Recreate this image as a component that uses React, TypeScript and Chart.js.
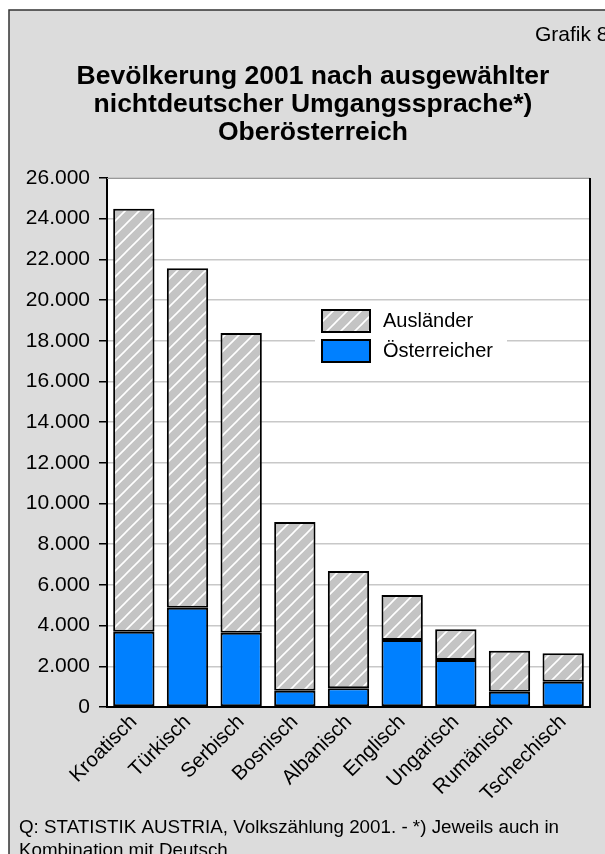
import React, { useEffect, useRef } from 'react';
import { Chart, registerables } from 'chart.js';

Chart.register(...registerables);

const categories = ['Kroatisch', 'Türkisch', 'Serbisch', 'Bosnisch', 'Albanisch', 'Englisch', 'Ungarisch', 'Rumänisch', 'Tschechisch'];
const oesterreicher = [3700, 4880, 3650, 800, 920, 3290, 2310, 750, 1240];
const auslaender = [20790, 16680, 14730, 8290, 5760, 2210, 1510, 2020, 1400];
const yMax = 26000;
const yStep = 2000;
const titleLines = ['Bevölkerung 2001 nach ausgewählter', 'nichtdeutscher Umgangssprache*)', 'Oberösterreich'];
const grafikLabel = 'Grafik 8';
const footerLines = ['Q: STATISTIK AUSTRIA, Volkszählung 2001. - *) Jeweils auch in', 'Kombination mit Deutsch.'];
const seriesNames = ['Österreicher', 'Ausländer'];

const FONT = "'Liberation Sans', Arial, Helvetica, sans-serif";
const BLUE = '#0080ff';
const GREY = '#c4c4c4';

function fmt(v: number): string {
  return String(Math.round(v)).replace(/\B(?=(\d{3})+(?!\d))/g, '.');
}

function makeHatch(): CanvasPattern | string {
  const s = 14;
  const c = document.createElement('canvas');
  c.width = s;
  c.height = s;
  const g = c.getContext('2d');
  if (!g) return GREY;
  g.fillStyle = GREY;
  g.fillRect(0, 0, s, s);
  g.strokeStyle = '#ffffff';
  g.lineWidth = 1.6;
  g.beginPath();
  g.moveTo(-2, s + 2);
  g.lineTo(s + 2, -2);
  g.moveTo(-s / 2 - 2, s / 2 + 2);
  g.lineTo(s / 2 + 2, -s / 2 - 2);
  g.moveTo(s / 2 - 2, s * 1.5 + 2);
  g.lineTo(s * 1.5 + 2, s / 2 - 2);
  g.stroke();
  const p = g.createPattern(c, 'repeat');
  return p || GREY;
}

const decorPlugin = {
  id: 'decor',
  beforeDraw(chart: any) {
    const { ctx, chartArea: a } = chart;
    ctx.save();
    ctx.fillStyle = '#ffffff';
    ctx.fillRect(0, 0, chart.width, chart.height);
    ctx.fillStyle = '#dcdcdc';
    ctx.fillRect(9, 10, 620, 860);
    ctx.strokeStyle = '#333333';
    ctx.lineWidth = 1.5;
    ctx.strokeRect(9, 10, 620, 860);
    ctx.fillStyle = '#ffffff';
    ctx.fillRect(a.left, a.top, a.right - a.left, a.bottom - a.top);
    ctx.restore();
  },
  afterDraw(chart: any) {
    const { ctx, chartArea: a } = chart;
    ctx.save();
    ctx.strokeStyle = '#999999';
    ctx.lineWidth = 1;
    ctx.beginPath();
    ctx.moveTo(a.left, a.top + 0.5);
    ctx.lineTo(a.right, a.top + 0.5);
    ctx.stroke();
    ctx.strokeStyle = '#000000';
    ctx.lineWidth = 2;
    ctx.beginPath();
    ctx.moveTo(a.right, a.top);
    ctx.lineTo(a.right, a.bottom + 1);
    ctx.stroke();

    ctx.fillStyle = '#000000';
    ctx.textBaseline = 'alphabetic';
    ctx.textAlign = 'left';
    ctx.font = `21px ${FONT}`;
    ctx.fillText(grafikLabel, 535, 41);

    ctx.font = `bold 26.5px ${FONT}`;
    ctx.textAlign = 'center';
    titleLines.forEach((t, i) => ctx.fillText(t, 313, 84 + i * 28));

    ctx.font = `18.8px ${FONT}`;
    ctx.textAlign = 'left';
    footerLines.forEach((t, i) => ctx.fillText(t, 19, 833 + i * 23));

    const lx = 322;
    const ly = 310;
    ctx.fillStyle = '#ffffff';
    ctx.fillRect(315, 304, 192, 64);
    const order = [1, 0];
    order.forEach((di, i) => {
      const ds = chart.data.datasets[di];
      const y = ly + i * 30;
      ctx.fillStyle = ds.backgroundColor;
      ctx.fillRect(lx, y, 48, 22);
      ctx.strokeStyle = '#000000';
      ctx.lineWidth = 2;
      ctx.strokeRect(lx, y, 48, 22);
      ctx.fillStyle = '#000000';
      ctx.font = `20px ${FONT}`;
      ctx.textAlign = 'left';
      ctx.textBaseline = 'middle';
      ctx.fillText(ds.label, 383, y + 11);
    });
    ctx.restore();
  },
};

export default function App() {
  const ref = useRef<HTMLCanvasElement | null>(null);

  useEffect(() => {
    if (!ref.current) return;
    const hatch = makeHatch();
    const chart = new Chart(ref.current, {
      type: 'bar',
      data: {
        labels: categories,
        datasets: [
          {
            label: seriesNames[0],
            data: oesterreicher,
            backgroundColor: BLUE,
            borderColor: '#000000',
            borderWidth: 2,
            borderSkipped: false,
            categoryPercentage: 1,
            barPercentage: 0.77,
          },
          {
            label: seriesNames[1],
            data: auslaender,
            backgroundColor: hatch as any,
            borderColor: '#000000',
            borderWidth: 2,
            borderSkipped: false,
            categoryPercentage: 1,
            barPercentage: 0.77,
          },
        ],
      },
      options: {
        responsive: false,
        animation: false,
        layout: { padding: { top: 178, left: 0, right: 15, bottom: 0 } },
        plugins: {
          legend: { display: false },
          title: { display: false },
          tooltip: { enabled: false },
        },
        scales: {
          x: {
            stacked: true,
            grid: { display: false, drawTicks: false },
            border: { display: true, color: '#000000', width: 2 },
            ticks: {
              minRotation: 45,
              maxRotation: 45,
              padding: 3,
              color: '#000000',
              font: { family: FONT, size: 20.5 },
            },
            afterFit(scale: any) {
              scale.height = 147;
            },
          },
          y: {
            stacked: true,
            min: 0,
            max: yMax,
            grid: { color: '#c8c8c8', lineWidth: 1.5, tickColor: '#000000', tickLength: 8, tickWidth: 1.5 },
            border: { display: true, color: '#000000', width: 2 },
            ticks: {
              stepSize: yStep,
              padding: 9,
              color: '#000000',
              font: { family: FONT, size: 21 },
              callback: (v: any) => fmt(Number(v)),
            },
            afterFit(scale: any) {
              scale.width = 107;
            },
          },
        },
      },
      plugins: [decorPlugin],
    });
    return () => chart.destroy();
  }, []);

  return (
    <div style={{ position: 'absolute', left: 0, top: 0, width: 605, height: 854, overflow: 'hidden' }}>
      <canvas ref={ref} width={605} height={854} style={{ display: 'block', width: 605, height: 854 }} />
    </div>
  );
}
